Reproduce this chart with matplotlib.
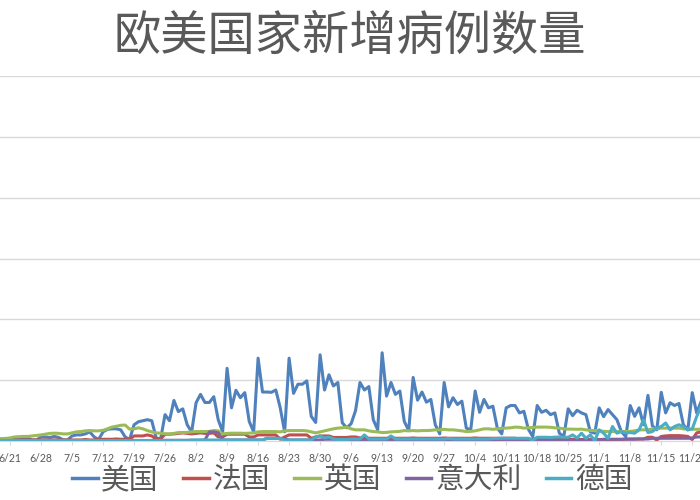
import pandas as pd
import matplotlib.pyplot as plt
from matplotlib.ticker import MultipleLocator

# 每日新增 (读图估计, 6/18 - 11/25)
dates = pd.date_range('2020-06-18', periods=161)

usa = [2, 2, 2,
       2.5, 3, 3, 3.5, 3, 1, 1,
       4, 4, 3.5, 4.5, 3.5, 1, 1,
       5, 6, 6, 7, 9, 4, 1.5,
       9, 11.5, 12, 12, 11, 4, 1.5,
       16, 19, 20, 21, 20, 3, 2,
       26, 20, 40, 29, 31.7, 16, 9,
       37.7, 46, 38, 38, 43.7, 21, 9,
       71.7, 32.7, 50, 42.7, 47.7, 19.3, 9,
       81.7, 48.3, 48.3, 48, 50.3, 32.7, 9,
       81.7, 47, 56, 56, 59.3, 24.3, 18.3,
       85, 50.3, 65.3, 54.3, 57.7, 18, 13,
       17, 30, 57.7, 50.3, 53.7, 21, 11,
       87, 44.3, 57.7, 46, 49.3, 19.3, 10.3,
       62.7, 40.3, 48.3, 38.3, 41, 16, 7,
       57.7, 33.7, 42.7, 36, 39.3, 12.7, 11,
       49.3, 28.3, 41, 32.7, 34.3, 12.7, 7,
       32.7, 35, 35, 27.7, 29.3, 11.7, 4.3,
       35, 28.3, 30.3, 26, 27.7, 7.7, 4.3,
       31.7, 25, 30.3, 27.7, 26, 9, 7.7,
       32.7, 24, 31, 26, 21, 9.3, 4.3,
       35, 24.3, 32.7, 16, 45, 15, 11,
       48, 27.7, 37.7, 35, 37, 16, 11,
       47.7, 27.7, 39, 35]

france = [1, 1, 1,
          1, 1, 1, 1, 1, 1, 1,
          1, 1, 1, 1, 1, 1, 1,
          1, 1, 1, 1.5, 1, 1, 1.5,
          1.7, 1.7, 1.7, 2, 1.7, 1.7, 1.5,
          5, 5, 5, 6, 5, 1.7, 2,
          6.7, 6.7, 7, 7.5, 8, 7.5, 7,
          7.5, 8, 7.5, 7.5, 8, 4, 4,
          6.7, 6.7, 6.7, 6.7, 6.7, 4, 4,
          6, 6, 6, 6, 6, 1.7, 4,
          6, 6, 6, 6, 6, 2.7, 4,
          5, 5, 5, 3.5, 3.5, 3.5, 3.5,
          4, 4, 3, 2.7, 2.7, 2.7, 2.7,
          2.7, 2.7, 2.7, 2.7, 2.7, 2.7, 2.7,
          3, 2.7, 2.7, 2.7, 2.7, 2.7, 2.7,
          3, 2.7, 2.7, 2.7, 2.7, 2.7, 2.7,
          3, 2.7, 2.7, 2.7, 2.7, 2.7, 2.7,
          2.7, 2.7, 2.7, 1.7, 1.7, 1.7, 1.7,
          1.7, 1.7, 1.7, 1.7, 1.7, 1.7, 1.7,
          1.7, 1.7, 1.5, 1.5, 1.5, 1.5, 1.5,
          1.5, 1.5, 1.5, 1.5, 1.5, 1.5, 2,
          2, 2, 2, 2, 3.7, 3.7, 1,
          4.5, 5, 5.3, 5.3, 5.3, 5, 4.5,
          1.5, 8, 9, 9]

uk = [2, 2, 2.5, 3, 4,
      4.3, 4.5, 4.5, 5, 5.5, 6, 6.7,
      7.5, 7.7, 7.5, 7, 7, 8, 9,
      9.3, 10, 10.3, 10, 10, 10.5, 12,
      13.7, 14.5, 15.5, 15.7, 11.7, 12, 13,
      12, 10.3, 9, 8, 7.7, 7, 7,
      7.5, 8.3, 8.3, 8.5, 9, 9.3, 9.3,
      9.3, 9.5, 10.3, 10, 7, 7.5, 7.7,
      7.7, 7.7, 7.5, 7.7, 8, 9, 9.3,
      9.3, 9.3, 9.3, 9, 10, 10.3, 10.3,
      10.3, 10.3, 10, 9, 8, 9, 10,
      11, 12, 12.7, 13, 13.7, 12, 11,
      11, 11, 10, 9.3, 9, 8.3, 8.5,
      9, 9.3, 9.5, 10.3, 10, 10.3, 10,
      10.3, 10.3, 10.5, 11, 11, 11.5, 11,
      11, 10.5, 10, 9.3, 9.5, 10, 11,
      12, 12, 11.5, 12, 12.5, 12.7, 13,
      13.7, 13.5, 12.7, 13, 13.3, 13.7, 13.7,
      13.7, 13.5, 13, 12.7, 12, 11.7, 11.7,
      11.5, 11.7, 11, 10.5, 10.3, 10, 9.5,
      9.3, 9.3, 9.3, 9.5, 9.3, 9.5, 10,
      11, 11, 11, 12, 12, 12.7, 12.7,
      12.7, 12.7, 12.7, 12, 11.7, 11.7, 11.5,
      11.7, 11.5]

italy = [0.5, 0.5, 0.5,
         0.5, 0.5, 0.5, 0.5, 0.5, 0.5, 0.5,
         0.5, 0.5, 0.5, 0.5, 0.5, 0.5, 0.5,
         0.5, 0.5, 0.5, 0.5, 0.5, 0.5, 0.5,
         0.5, 0.5, 0.5, 0.5, 0.5, 0.5, 0.5,
         0.5, 0.5, 0.5, 0.5, 0.5, 0.5, 0.5,
         0.7, 0.7, 0.7, 0.7, 0.7, 0.7, 0.7,
         0.7, 0.7, 1, 9, 9, 8, 1,
         1, 1, 1, 1, 1, 1, 1,
         1, 1, 2.7, 2.7, 2.7, 2.7, 2,
         1, 1, 1, 1, 1, 1, 1,
         1, 1.7, 1.7, 1.7, 1.7, 1, 1,
         0.7, 0.7, 0.7, 0.7, 0.7, 0.7, 0.7,
         0.7, 0.7, 0.7, 0.7, 0.7, 0.7, 0.7,
         0.7, 0.7, 0.7, 0.7, 0.7, 0.7, 0.7,
         0.7, 0.7, 0.7, 0.7, 0.7, 0.7, 0.7,
         0.7, 0.7, 0.7, 0.7, 0.7, 0.7, 0.7,
         0.7, 0.7, 0.7, 0.7, 0.7, 0.7, 0.7,
         0.7, 0.7, 0.7, 0.7, 0.7, 0.7, 0.7,
         0.7, 0.7, 1, 1, 1, 1, 1,
         1, 1.7, 1.7, 1.7, 1.7, 1.7, 1.7,
         1.7, 1.7, 2, 2, 2, 2.7, 2.7,
         2.7, 2.7, 2.7, 2.7, 2.7, 2.7, 2.7,
         3, 4, 4, 4]

germany = [0.5, 0.5, 0.5,
           0.5, 0.5, 0.5, 0.5, 0.5, 0.5, 0.5,
           0.5, 0.5, 0.5, 0.5, 0.5, 0.5, 0.5,
           0.5, 0.5, 0.5, 0.5, 0.5, 0.5, 0.5,
           0.5, 0.5, 0.5, 0.5, 0.5, 0.5, 0.5,
           0.5, 0.5, 0.5, 0.5, 0.5, 0.5, 0.5,
           0.5, 0.5, 0.5, 0.5, 0.5, 0.5, 1,
           1, 1, 1, 1, 1, 1, 1,
           1, 1, 1, 1, 1, 1, 1,
           1, 1, 2.5, 2.5, 2.5, 2.5, 1,
           1, 1, 1, 1, 1, 1, 4,
           5, 3, 4, 2, 1.5, 1.5, 1.5,
           2, 2, 2, 6, 2, 2, 2,
           2, 2, 5, 2, 2, 2, 2,
           2, 2, 2, 2, 2, 2, 2,
           2, 2.5, 2, 2, 2, 2, 2,
           2, 2, 2, 2, 2.5, 2.5, 2.7,
           2.7, 2.7, 2.7, 2.7, 2.7, 2.7, 1,
           3.7, 3.7, 3.7, 3.5, 3.7, 4, 3.7,
           3.7, 6, 3, 7.7, 2.7, 6, 0.3,
           11, 7.7, 2.7, 14.3, 7.7, 9.3, 8,
           8.3, 7.7, 11, 21, 8.3, 9.3, 12.7,
           14.3, 17.7, 11, 14.3, 16, 14.3, 11,
           12, 24, 34, 30]

names = ['美国', '法国', '英国', '意大利', '德国']
colors = ['#4F81BD', '#C0504D', '#9BBB59', '#8064A2', '#4BACC6']
series = [usa, france, uk, italy, germany]

cjk = ['Noto Sans CJK SC', 'DejaVu Sans']
grey = '#595959'

fig = plt.figure(figsize=(7, 5), dpi=100)
# 图表右侧和左侧被裁掉, 坐标区伸出画布
ax = fig.add_axes([-0.0047, 0.118, 1.0126, 0.73])

x = list(range(len(dates)))
for vals, c, n in zip(series, colors, names):
    ax.plot(x, vals, color=c, lw=2.2, label=n, solid_joinstyle='round')

ax.set_xlim(0, 160)
ax.set_ylim(0, 360)
ax.yaxis.set_major_locator(MultipleLocator(60))
ax.grid(axis='y', color='#D9D9D9', lw=1)
ax.set_axisbelow(True)
for s in ['left', 'right', 'top']:
    ax.spines[s].set_visible(False)
ax.spines['bottom'].set_color('#D9D9D9')
ax.tick_params(axis='y', left=False, labelleft=False)

tick_pos = [i for i in x if (i - 3) % 7 == 0]
tick_lab = [f'{dates[i].month}/{dates[i].day}' for i in tick_pos]
ax.set_xticks(tick_pos)
ax.set_xticklabels(tick_lab, fontsize=7.6, color=grey, family='Lato')
ax.tick_params(axis='x', length=3, color='#D9D9D9', pad=5.5)

fig.text(0.5, 0.926, '欧美国家新增病例数量', ha='center', va='center',
         fontsize=34, color=grey, family=cjk, fontweight='light')

leg = fig.legend(loc='center', bbox_to_anchor=(0.503, 0.04), ncol=5, frameon=False,
                 prop={'family': cjk, 'size': 20.7}, handlelength=0.9,
                 handletextpad=0.12, columnspacing=0.85)
for t in leg.get_texts():
    t.set_color(grey)
for l in leg.get_lines():
    l.set_linewidth(2.5)

fig.savefig('out.png', dpi=100)
